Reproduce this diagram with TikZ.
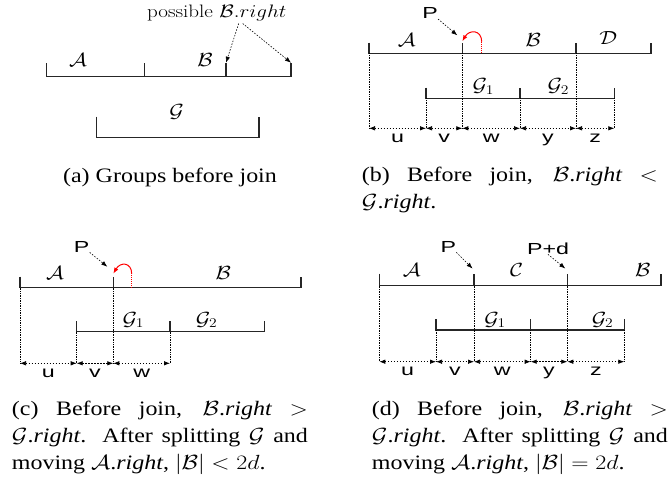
\RequirePackage{fix-cm}
\documentclass[tikz,border=0pt]{standalone}
\usepackage{fontspec}
\newfontfamily\capfont{Liberation Serif}
\newfontfamily\lblfont{Liberation Sans}
\usetikzlibrary{arrows.meta}
\hyphenpenalty=10000

\begin{document}
\begin{tikzpicture}[x=1pt,y=1pt,>={Latex[length=6pt,width=4.5pt]},
  bar/.style={line width=1.3pt,black!85},
  guide/.style={densely dotted,line width=0.7pt},
  dim/.style={dash pattern=on 1.5pt off 1.5pt,<->,line width=0.7pt},
  ptr/.style={dash pattern=on 1.5pt off 1.5pt,->,line width=0.6pt},
  back/.style={red,line width=1pt},
  txt/.style={inner sep=0pt,xscale=1.17,transform shape},
  lbl/.style={txt,font=\fontsize{19}{19}\selectfont},
  sans/.style={inner sep=0pt,xscale=1.45,transform shape,font=\lblfont\fontsize{16}{16}\selectfont},
  captext/.style={txt,font=\capfont\fontsize{20.5}{26.7}\selectfont\sloppy,text width=253pt,align=justify,anchor=base west}]
  \useasboundingbox (0,0) rectangle (670,-482);

  \coordinate (a1) at (46.7,-76.7);
  \coordinate (a2) at (144.3,-76.7);
  \coordinate (a3) at (226,-76.7);
  \coordinate (a4) at (291,-76.7);
  \coordinate (ag1) at (96.7,-137.7);
  \coordinate (ag2) at (259,-137.7);
  \draw[bar] (a1) ++(0,13.5) -- (a1) -- (a4) -- ++(0,13.5);
  \draw[bar] (a2) -- ++(0,13.5);
  \draw[bar] (a3) -- ++(0,13.5);
  \draw[bar] (ag1) ++(0,21) -- (ag1) -- (ag2) -- ++(0,21);
  \node[lbl] (aA) at (78,-60) {$\mathcal{A}$};
  \node[lbl] (aB) at (205,-60) {$\mathcal{B}$};
  \node[lbl] (aG) at (176.7,-111.7) {$\mathcal{G}$};
  \node[lbl,font=\fontsize{18}{18}\selectfont] (poss) at (216.7,-13.3) {possible $\mathcal{B}.right$};
  \draw[ptr] ([xshift=22pt,yshift=-2pt]poss.south) -- ([yshift=14pt]a3);
  \draw[ptr] ([xshift=26pt,yshift=-2pt]poss.south) -- ([yshift=14pt]a4);
  \node[txt,font=\capfont\fontsize{20.5}{26.7}\selectfont,anchor=base] (capa) at (170,-182) {(a) Groups before join};

  \coordinate (b1) at (369,-53.3);
  \coordinate (b2) at (462.3,-53.3);
  \coordinate (b3) at (576,-53.3);
  \coordinate (b4) at (651,-53.3);
  \coordinate (br) at (481.7,-53.3);
  \coordinate (bg1) at (426,-98.3);
  \coordinate (bg2) at (520,-98.3);
  \coordinate (bg3) at (614.3,-98.3);
  \coordinate (bd) at (0,-128.3);
  \draw[bar] (b1) ++(0,10.6) -- (b1) -- (b4) -- ++(0,10.6);
  \draw[bar] (b2) -- ++(0,10.6);
  \draw[bar] (b3) -- ++(0,10.6);
  \draw[bar] (bg1) ++(0,10.6) -- (bg1) -- (bg3) -- ++(0,10.6);
  \draw[bar] (bg2) -- ++(0,10.6);
  \draw[back,densely dotted] (br) -- ++(0,11.6) coordinate (brt);
  \draw[back,->] (brt) .. controls +(0,12) and +(7,12) .. ([yshift=12pt]b2);
  \node[lbl] (bA) at (406.7,-40) {$\mathcal{A}$};
  \node[lbl] (bB) at (533.3,-40) {$\mathcal{B}$};
  \node[lbl] (bD) at (608.3,-38.3) {$\mathcal{D}$};
  \node[lbl] (bG1) at (483.3,-86.7) {$\mathcal{G}_1$};
  \node[lbl] (bG2) at (558.3,-86.7) {$\mathcal{G}_2$};
  \node[sans] (bP) at (430,-13.3) {P};
  \draw[ptr] (bP.south east) -- ([xshift=-5pt,yshift=18pt]b2);
  \draw[guide] (b1) -- (b1 |- bd);
  \draw[guide] (bg1) -- (bg1 |- bd);
  \draw[guide] (b2) -- (b2 |- bd);
  \draw[guide] (bg2) -- (bg2 |- bd);
  \draw[guide] (b3) -- (b3 |- bd);
  \draw[guide] (bg3) -- (bg3 |- bd);
  \draw[dim] (b1 |- bd) -- node[sans,anchor=base,yshift=-14pt] (bu) {u} (bg1 |- bd);
  \draw[dim] (bg1 |- bd) -- node[sans,anchor=base,yshift=-14pt] (bv) {v} (b2 |- bd);
  \draw[dim] (b2 |- bd) -- node[sans,anchor=base,yshift=-14pt] (bw) {w} (bg2 |- bd);
  \draw[dim] (bg2 |- bd) -- node[sans,anchor=base,yshift=-14pt] (by) {y} (b3 |- bd);
  \draw[dim] (b3 |- bd) -- node[sans,anchor=base,yshift=-14pt] (bz) {z} (bg3 |- bd);
  \node[captext] (capb) at (361.7,-181.7) {(b) Before join, $\mathcal{B}$.\textit{right} $<$ $\mathcal{G}$.\textit{right}.};

  \coordinate (c1) at (20,-287.7);
  \coordinate (c2) at (113.3,-287.7);
  \coordinate (c3) at (301,-287.7);
  \coordinate (cr) at (131.7,-287.7);
  \coordinate (cg1) at (76.7,-331.7);
  \coordinate (cg2) at (170,-331.7);
  \coordinate (cg3) at (264.3,-331.7);
  \coordinate (cd) at (0,-363.3);
  \draw[bar] (c1) ++(0,11) -- (c1) -- (c3) -- ++(0,11);
  \draw[bar] (c2) -- ++(0,11);
  \draw[bar] (cg1) ++(0,10.7) -- (cg1) -- (cg3) -- ++(0,10.7);
  \draw[bar] (cg2) -- ++(0,10.7);
  \draw[back,densely dotted] (cr) -- ++(0,13.7) coordinate (crt);
  \draw[back,->] (crt) .. controls +(0,12) and +(7,12) .. ([yshift=14pt]c2);
  \node[lbl] (cA) at (55,-273.3) {$\mathcal{A}$};
  \node[lbl] (cB) at (223.3,-273.3) {$\mathcal{B}$};
  \node[lbl] (cG1) at (133.3,-320) {$\mathcal{G}_1$};
  \node[lbl] (cG2) at (206.7,-320) {$\mathcal{G}_2$};
  \node[sans] (cP) at (81.7,-246.7) {P};
  \draw[ptr] (cP.south east) -- ([xshift=-6pt,yshift=21pt]c2);
  \draw[guide] (c1) -- (c1 |- cd);
  \draw[guide] (cg1) -- (cg1 |- cd);
  \draw[guide] (c2) -- (c2 |- cd);
  \draw[guide] (cg2) -- (cg2 |- cd);
  \draw[dim] (c1 |- cd) -- node[sans,anchor=base,yshift=-14pt] (cu) {u} (cg1 |- cd);
  \draw[dim] (cg1 |- cd) -- node[sans,anchor=base,yshift=-14pt] (cv) {v} (c2 |- cd);
  \draw[dim] (c2 |- cd) -- node[sans,anchor=base,yshift=-14pt] (cw) {w} (cg2 |- cd);
  \node[captext] (capc) at (11.7,-415.7) {(c) Before join, $\mathcal{B}$.\textit{right} $>$ $\mathcal{G}$.\textit{right}. After splitting $\mathcal{G}$ and moving $\mathcal{A}$.\textit{right}, $|\mathcal{B}|<2d$.};

  \coordinate (d1) at (379.3,-285.5);
  \coordinate (d2) at (474,-285.5);
  \coordinate (d3) at (567.3,-285.5);
  \coordinate (d4) at (661,-285.5);
  \coordinate (dg1) at (436,-330);
  \coordinate (dg2) at (530.7,-330);
  \coordinate (dg3) at (624.3,-330);
  \coordinate (dd) at (0,-361.7);
  \draw[bar] (d1) ++(0,12) -- (d1) -- (d4) -- ++(0,12);
  \draw[bar] (d2) -- ++(0,12);
  \draw[bar] (d3) -- ++(0,12);
  \draw[bar] (dg1) ++(0,11) -- (dg1) -- (dg3) -- ++(0,11);
  \draw[bar] (dg2) -- ++(0,11);
  \node[lbl] (dA) at (411.7,-270) {$\mathcal{A}$};
  \node[lbl] (dC) at (516.7,-270) {$\mathcal{C}$};
  \node[lbl] (dB) at (642.7,-270) {$\mathcal{B}$};
  \node[lbl] (dG1) at (495,-320) {$\mathcal{G}_1$};
  \node[lbl] (dG2) at (602.7,-320) {$\mathcal{G}_2$};
  \node[sans] (dP) at (448.3,-246.7) {P};
  \node[sans] (dPd) at (548,-248.3) {P+d};
  \draw[ptr] (dP.south east) -- ([xshift=-1.5pt,yshift=17pt]d2);
  \draw[ptr] (dPd.south) -- ([xshift=-2pt,yshift=17pt]d3);
  \draw[guide] (d1) -- (d1 |- dd);
  \draw[guide] (dg1) -- (dg1 |- dd);
  \draw[guide] (d2) -- (d2 |- dd);
  \draw[guide] (dg2) -- (dg2 |- dd);
  \draw[guide] (d3) -- (d3 |- dd);
  \draw[guide] (dg3) -- (dg3 |- dd);
  \draw[dim] (d1 |- dd) -- node[sans,anchor=base,yshift=-14pt] (du) {u} (dg1 |- dd);
  \draw[dim] (dg1 |- dd) -- node[sans,anchor=base,yshift=-14pt] (dv) {v} (d2 |- dd);
  \draw[dim] (d2 |- dd) -- node[sans,anchor=base,yshift=-14pt] (dw) {w} (dg2 |- dd);
  \draw[dim] (dg2 |- dd) -- node[sans,anchor=base,yshift=-14pt] (dy) {y} (d3 |- dd);
  \draw[dim] (d3 |- dd) -- node[sans,anchor=base,yshift=-14pt] (dz) {z} (dg3 |- dd);
  \node[captext] (capd) at (371.7,-415.7) {(d) Before join, $\mathcal{B}$.\textit{right} $>$ $\mathcal{G}$.\textit{right}. After splitting $\mathcal{G}$ and moving $\mathcal{A}$.\textit{right}, $|\mathcal{B}|=2d$.};
\end{tikzpicture}
\end{document}
